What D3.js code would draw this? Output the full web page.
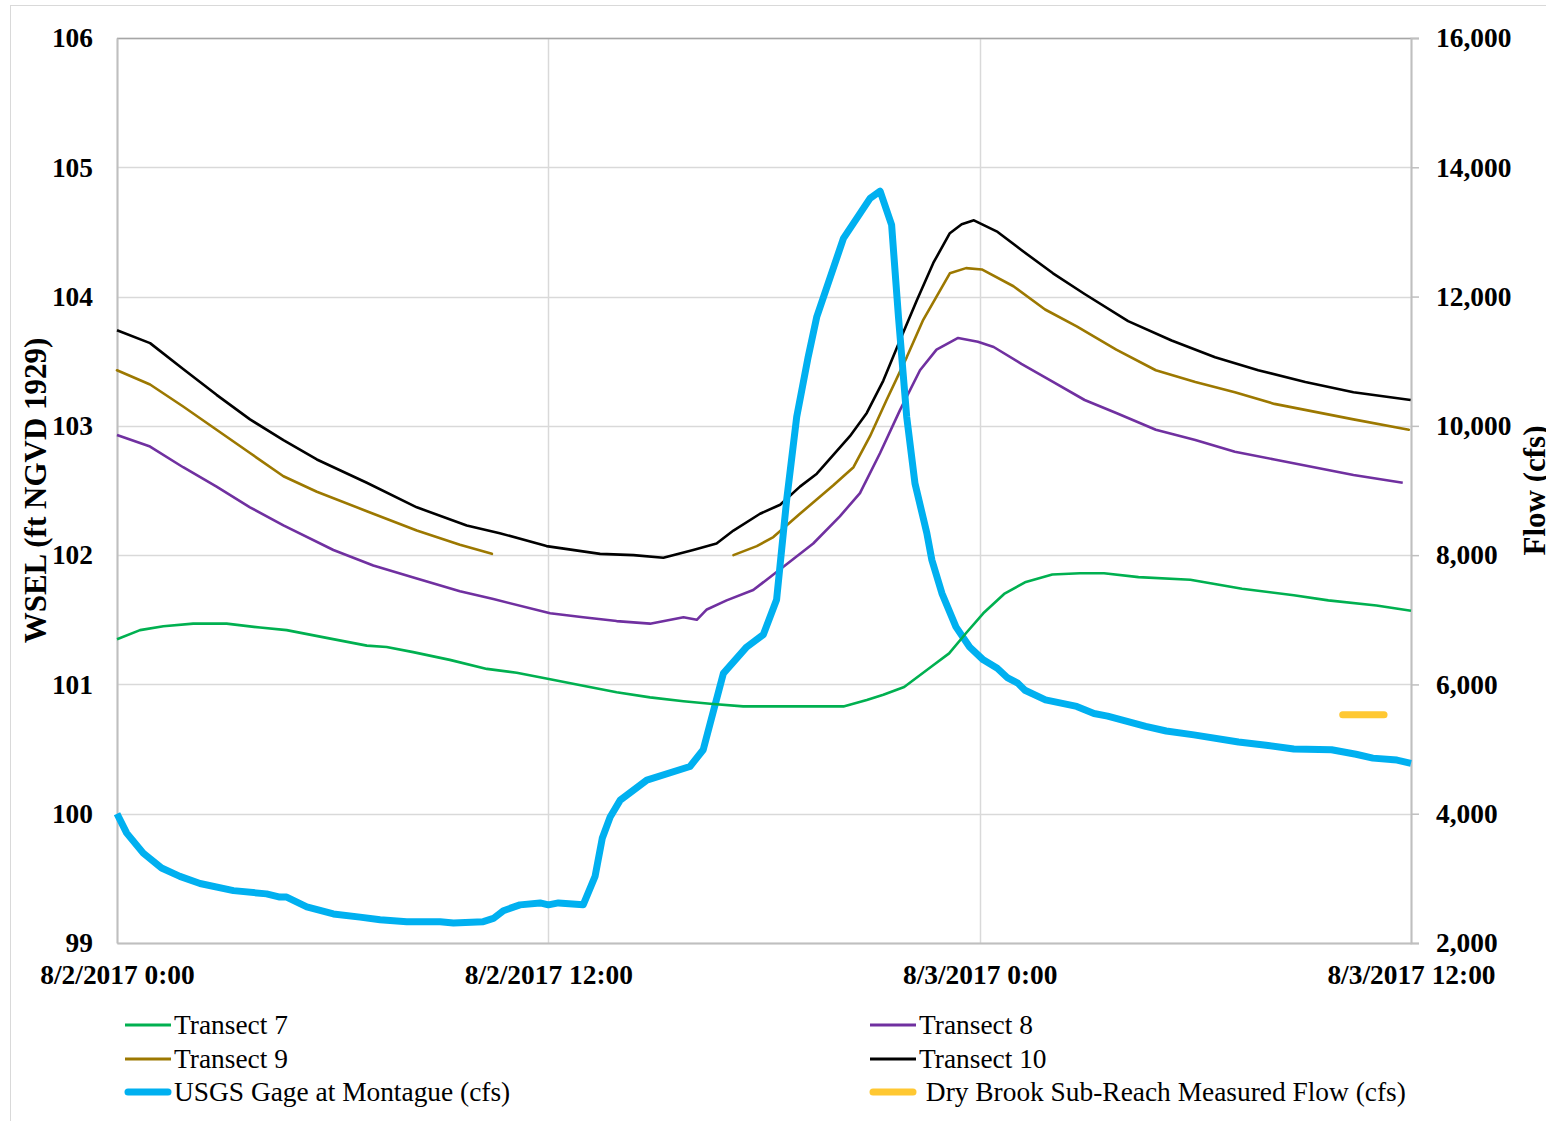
<!DOCTYPE html>
<html>
<head>
<meta charset="utf-8">
<script src="https://cdn.jsdelivr.net/npm/d3@7"></script>
<style>
  html, body { margin: 0; padding: 0; background: #fff; }
  svg { display: block; }
  text { font-family: "Liberation Serif", "Times New Roman", serif; fill: #000; }
</style>
</head>
<body>
<svg id="chart" width="1546" height="1121"></svg>
<script>
// ---------- DATA (hour offset from 8/2/2017 0:00, value) ----------
const startTime = new Date(2017, 7, 2, 0, 0);
const endTime = new Date(2017, 7, 3, 12, 0);

const xTickHours = [0, 12, 24, 36];
const xTickLabels = ["8/2/2017 0:00", "8/2/2017 12:00", "8/3/2017 0:00", "8/3/2017 12:00"];
const leftTicks = [99, 100, 101, 102, 103, 104, 105, 106];
const rightTicks = [2000, 4000, 6000, 8000, 10000, 12000, 14000, 16000];

const transect7 = [
  [0, 101.35], [0.64, 101.42], [1.29, 101.45], [2.12, 101.47], [3.05, 101.47], [3.98, 101.44],
  [4.72, 101.42], [5.83, 101.36], [6.95, 101.30], [7.50, 101.29], [8.24, 101.25], [9.26, 101.19],
  [10.29, 101.12], [11.12, 101.09], [12.05, 101.04], [12.97, 100.99], [13.90, 100.94], [14.83, 100.90],
  [15.76, 100.87], [16.50, 100.85], [17.42, 100.83], [18.54, 100.83], [19.47, 100.83], [20.21, 100.83],
  [20.86, 100.88], [21.32, 100.92], [21.90, 100.98], [22.67, 101.14], [23.15, 101.24], [23.63, 101.40],
  [24.10, 101.55], [24.68, 101.70], [25.26, 101.79], [26.02, 101.85], [26.79, 101.86], [27.46, 101.86],
  [28.42, 101.83], [29.86, 101.81], [31.30, 101.74], [32.74, 101.69], [33.70, 101.65], [35.04, 101.61],
  [36.0, 101.57]
];

const transect8 = [
  [0, 102.93], [0.92, 102.84], [1.84, 102.68], [2.77, 102.53], [3.70, 102.37], [4.63, 102.23],
  [6.02, 102.04], [7.13, 101.92], [8.34, 101.82], [9.54, 101.72], [10.47, 101.66], [12.05, 101.55],
  [12.97, 101.52], [13.90, 101.49], [14.83, 101.47], [15.76, 101.52], [16.13, 101.50], [16.41, 101.58],
  [16.96, 101.65], [17.70, 101.73], [18.54, 101.91], [19.37, 102.09], [20.11, 102.30], [20.67, 102.48],
  [21.23, 102.79], [21.78, 103.12], [22.34, 103.43], [22.80, 103.59], [23.40, 103.68], [23.95, 103.65],
  [24.39, 103.61], [25.16, 103.48], [26.04, 103.34], [26.92, 103.20], [27.80, 103.10], [28.90, 102.97],
  [30.00, 102.89], [31.10, 102.80], [32.20, 102.74], [33.30, 102.68], [34.40, 102.62], [35.77, 102.56]
];

// Transect 9 has a data gap between ~10.4 h and ~17.1 h (null = gap)
const transect9 = [
  [0, 103.43], [0.92, 103.32], [1.84, 103.15], [2.77, 102.97], [3.70, 102.79], [4.63, 102.61],
  [5.56, 102.49], [6.95, 102.34], [8.34, 102.19], [9.54, 102.08], [10.43, 102.01],
  [13.5, null],
  [17.15, 102.00], [17.80, 102.07], [18.26, 102.14], [19.00, 102.32], [19.93, 102.54], [20.49, 102.68],
  [20.95, 102.92], [21.41, 103.20], [21.97, 103.53], [22.43, 103.82], [23.17, 104.18], [23.62, 104.22],
  [24.06, 104.21], [24.94, 104.08], [25.82, 103.90], [26.70, 103.77], [27.80, 103.59], [28.90, 103.43],
  [30.00, 103.34], [31.10, 103.26], [32.20, 103.17], [33.30, 103.11], [34.40, 103.05], [35.94, 102.97]
];

const transect10 = [
  [0, 103.74], [0.92, 103.64], [1.84, 103.44], [2.77, 103.24], [3.70, 103.05], [4.63, 102.89],
  [5.56, 102.74], [6.95, 102.56], [8.34, 102.37], [9.73, 102.23], [10.65, 102.17], [11.95, 102.07],
  [13.44, 102.01], [14.37, 102.00], [15.20, 101.98], [16.03, 102.04], [16.68, 102.09], [17.15, 102.19],
  [17.89, 102.32], [18.45, 102.39], [19.00, 102.53], [19.47, 102.63], [20.39, 102.92], [20.86, 103.10],
  [21.32, 103.35], [21.78, 103.66], [22.25, 103.97], [22.71, 104.26], [23.17, 104.49], [23.50, 104.56],
  [23.84, 104.59], [24.50, 104.50], [25.16, 104.36], [26.04, 104.18], [26.92, 104.02], [28.13, 103.81],
  [29.34, 103.66], [30.55, 103.53], [31.75, 103.43], [33.06, 103.34], [34.40, 103.26], [35.99, 103.20]
];

const usgsFlow = [
  [0, 4000], [0.27, 3700], [0.73, 3390], [1.24, 3160], [1.75, 3030], [2.31, 2920], [3.24, 2810],
  [4.16, 2760], [4.53, 2710], [4.72, 2710], [5.28, 2560], [6.02, 2450], [6.76, 2400], [7.32, 2360],
  [8.06, 2330], [8.99, 2330], [9.36, 2310], [10.19, 2330], [10.47, 2380], [10.75, 2500], [11.21, 2590],
  [11.77, 2620], [12.00, 2590], [12.28, 2620], [12.97, 2590], [13.30, 3030], [13.50, 3620], [13.72, 3950],
  [14.00, 4210], [14.74, 4520], [15.94, 4730], [16.31, 4990], [16.87, 6170], [17.52, 6580], [17.98, 6770],
  [18.35, 7310], [18.63, 8850], [18.91, 10140], [19.23, 11070], [19.47, 11690], [20.21, 12900],
  [20.95, 13520], [21.23, 13630], [21.55, 13110], [21.74, 11690], [21.97, 10140], [22.20, 9110],
  [22.53, 8340], [22.67, 7925], [22.95, 7410], [23.34, 6890], [23.72, 6580], [24.10, 6380], [24.49, 6250],
  [24.78, 6100], [25.06, 6020], [25.26, 5910], [25.83, 5760], [26.70, 5660], [27.18, 5550], [27.56, 5510],
  [28.62, 5350], [29.19, 5280], [29.96, 5220], [31.20, 5110], [31.97, 5060], [32.74, 5000], [33.79, 4990],
  [34.47, 4920], [34.94, 4860], [35.61, 4830], [36.0, 4780]
];

const dryBrookFlow = [[34.1, 5530], [35.25, 5530]];

const seriesNames = ["Transect 7", "Transect 8", "Transect 9", "Transect 10",
  "USGS Gage at Montague (cfs)", " Dry Brook Sub-Reach Measured Flow (cfs)"];
const seriesColors = ["#00b050", "#7030a0", "#9c7800", "#000000", "#00b0f0", "#ffc832"];

// ---------- LAYOUT ----------
const svg = d3.select("#chart");
const plot = { left: 117, right: 1411, top: 38, bottom: 943 };
const hourToDate = h => new Date(startTime.getTime() + h * 3600 * 1000);

const x = d3.scaleTime().domain([startTime, endTime]).range([plot.left, plot.right]);
const yL = d3.scaleLinear().domain([99, 106]).range([plot.bottom, plot.top]);
const yR = d3.scaleLinear().domain([2000, 16000]).range([plot.bottom, plot.top]);

// outer frame
svg.append("rect").attr("x", 10.5).attr("y", 5.5).attr("width", 1545).attr("height", 1125)
  .attr("fill", "none").attr("stroke", "#d9d9d9").attr("stroke-width", 1);

// gridlines
const grid = svg.append("g");
leftTicks.forEach(v => {
  grid.append("line").attr("x1", plot.left).attr("x2", plot.right)
    .attr("y1", Math.round(yL(v)) + 0.5).attr("y2", Math.round(yL(v)) + 0.5)
    .attr("stroke", "#d9d9d9").attr("stroke-width", 1.5);
});
xTickHours.forEach(h => {
  const px = Math.round(x(hourToDate(h))) + 0.5;
  grid.append("line").attr("x1", px).attr("x2", px).attr("y1", plot.top).attr("y2", plot.bottom)
    .attr("stroke", "#d9d9d9").attr("stroke-width", 1.5);
});

// plot border (top)
svg.append("line").attr("x1", plot.left).attr("x2", plot.right).attr("y1", plot.top + 0.5).attr("y2", plot.top + 0.5)
  .attr("stroke", "#a6a6a6").attr("stroke-width", 1.5);

// axes
const fontSize = 27.4;
const axL = svg.append("g").attr("transform", `translate(${plot.left},0)`)
  .call(d3.axisLeft(yL).tickValues(leftTicks).tickSize(0).tickPadding(24).tickFormat(d3.format("d")));
const axR = svg.append("g").attr("transform", `translate(${plot.right},0)`)
  .call(d3.axisRight(yR).tickValues(rightTicks).tickSize(8).tickPadding(17).tickFormat(d3.format(",")));
const axB = svg.append("g").attr("transform", `translate(0,${plot.bottom})`)
  .call(d3.axisBottom(x).tickValues(xTickHours.map(hourToDate)).tickSize(0).tickPadding(22)
    .tickFormat((d, i) => xTickLabels[i]));

[axL, axR, axB].forEach(ax => {
  ax.select(".domain").attr("stroke", "#bfbfbf").attr("stroke-width", 2);
  ax.selectAll(".tick line").attr("stroke", "#bfbfbf").attr("stroke-width", 1.5);
  ax.selectAll(".tick text").attr("font-size", fontSize).attr("font-weight", "bold")
    .attr("font-family", '"Liberation Serif", serif').attr("fill", "#000");
});
axB.selectAll(".tick text").attr("dy", "0.71em");

// axis titles
svg.append("text").attr("transform", `translate(46,${(plot.top + plot.bottom) / 2}) rotate(-90)`)
  .attr("text-anchor", "middle").attr("font-size", 31).attr("font-weight", "bold")
  .text("WSEL (ft NGVD 1929)");
svg.append("text").attr("transform", `translate(1545,${(plot.top + plot.bottom) / 2}) rotate(-90)`)
  .attr("text-anchor", "middle").attr("font-size", 31).attr("font-weight", "bold")
  .text("Flow (cfs)");

// lines
const lineL = d3.line().defined(d => d[1] !== null)
  .x(d => x(hourToDate(d[0]))).y(d => yL(d[1])).curve(d3.curveLinear);
const lineR = d3.line().x(d => x(hourToDate(d[0]))).y(d => yR(d[1])).curve(d3.curveLinear);

const marks = svg.append("g");
function drawLine(data, gen, color, width, cap) {
  marks.append("path").datum(data).attr("d", gen).attr("fill", "none")
    .attr("stroke", color).attr("stroke-width", width)
    .attr("stroke-linejoin", "round").attr("stroke-linecap", cap || "butt");
}
drawLine(transect8, lineL, seriesColors[1], 2.6);
drawLine(transect9, lineL, seriesColors[2], 2.6, "round");
drawLine(transect10, lineL, seriesColors[3], 2.6);
drawLine(usgsFlow, lineR, seriesColors[4], 7);
drawLine(transect7, lineL, seriesColors[0], 2.6);
drawLine(dryBrookFlow, lineR, seriesColors[5], 7, "round");

// legend
const legend = svg.append("g");
const legItems = [
  { i: 0, lx: 125, ly: 1025, w: 2.8 },
  { i: 1, lx: 870, ly: 1025, w: 2.8 },
  { i: 2, lx: 125, ly: 1059, w: 2.8 },
  { i: 3, lx: 870, ly: 1059, w: 2.8 },
  { i: 4, lx: 125, ly: 1092, w: 7, cap: "round" },
  { i: 5, lx: 870, ly: 1092, w: 7, cap: "round" }
];
legItems.forEach(it => {
  const capPad = it.cap ? 3 : 0;
  legend.append("line").attr("x1", it.lx + capPad).attr("x2", it.lx + 46 - capPad)
    .attr("y1", it.ly).attr("y2", it.ly)
    .attr("stroke", seriesColors[it.i]).attr("stroke-width", it.w)
    .attr("stroke-linecap", it.cap || "butt");
  legend.append("text").attr("x", it.lx + 49).attr("y", it.ly + 9)
    .attr("font-size", fontSize).attr("xml:space", "preserve").style("white-space", "pre")
    .text(seriesNames[it.i]);
});
</script>
</body>
</html>
